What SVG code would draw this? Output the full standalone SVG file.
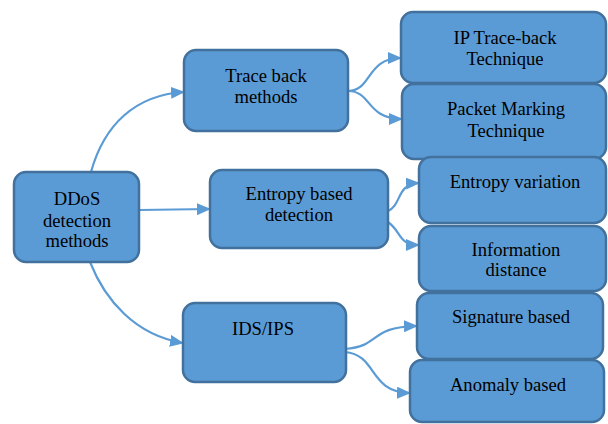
<svg xmlns="http://www.w3.org/2000/svg" width="608" height="424" viewBox="0 0 608 424">
<defs>
<style>
.box{fill:#5B9BD5;stroke:#41719C;stroke-width:2.5}
.t{font-family:'Liberation Serif','Times New Roman',serif;font-size:18.6px;fill:#000;text-anchor:middle}
.c{fill:none;stroke:#5B9BD5;stroke-width:2.2}
</style>
<marker id="ah" markerWidth="14" markerHeight="12" refX="13" refY="6" orient="auto" markerUnits="userSpaceOnUse">
<path d="M0,0 L14,6 L0,12 Z" fill="#5B9BD5"/>
</marker>
</defs>
<rect width="608" height="424" fill="#fff"/>
<g id="connectors">
<path class="c" d="M91,172 C104,125 135,95 184,92" marker-end="url(#ah)"/>
<path class="c" d="M139,210 L210,209" marker-end="url(#ah)"/>
<path class="c" d="M90,262 C105,300 135,335 183,343" marker-end="url(#ah)"/>
<path class="c" d="M348,91 C372,91 366,58 401,58" marker-end="url(#ah)"/>
<path class="c" d="M348,91 C372,91 366,119 402,119" marker-end="url(#ah)"/>
<path class="c" d="M388,211 C402,205 396,184 419,183" marker-end="url(#ah)"/>
<path class="c" d="M388,222 C402,232 398,245 419,245" marker-end="url(#ah)"/>
<path class="c" d="M345,349 C382,346 368,327 417,326" marker-end="url(#ah)"/>
<path class="c" d="M345,352 C378,355 368,392 410,393" marker-end="url(#ah)"/>
</g>
<g id="ddos">
<rect class="box" x="14" y="172" width="125" height="90" rx="12"/>
<text class="t" x="77" y="205">DDoS</text>
<text class="t" x="77" y="227">detection</text>
<text class="t" x="77" y="247">methods</text>
</g>
<g id="traceback">
<rect class="box" x="184" y="50" width="164" height="81" rx="12"/>
<text class="t" x="266" y="82">Trace back</text>
<text class="t" x="266" y="103">methods</text>
</g>
<g id="entropy">
<rect class="box" x="210" y="170" width="178" height="78" rx="12"/>
<text class="t" x="299" y="200">Entropy based</text>
<text class="t" x="299" y="221">detection</text>
</g>
<g id="idsips">
<rect class="box" x="183" y="303" width="163" height="79" rx="12"/>
<text class="t" x="263" y="335">IDS/IPS</text>
</g>
<g id="iptraceback">
<rect class="box" x="401" y="12" width="205" height="71" rx="12"/>
<text class="t" x="505" y="44">IP Trace-back</text>
<text class="t" x="505" y="65">Technique</text>
</g>
<g id="packetmarking">
<rect class="box" x="402" y="84" width="204" height="75" rx="12"/>
<text class="t" x="506" y="115">Packet Marking</text>
<text class="t" x="506" y="137">Technique</text>
</g>
<g id="entropyvariation">
<rect class="box" x="419" y="157" width="187" height="66" rx="12"/>
<text class="t" x="515" y="188">Entropy variation</text>
</g>
<g id="infodistance">
<rect class="box" x="419" y="226" width="187" height="65" rx="12"/>
<text class="t" x="516" y="256">Information</text>
<text class="t" x="516" y="276">distance</text>
</g>
<g id="signature">
<rect class="box" x="417" y="293" width="186" height="66" rx="12"/>
<text class="t" x="511" y="323">Signature based</text>
</g>
<g id="anomaly">
<rect class="box" x="410" y="360" width="194" height="62" rx="12"/>
<text class="t" x="508" y="391">Anomaly based</text>
</g>
</svg>
